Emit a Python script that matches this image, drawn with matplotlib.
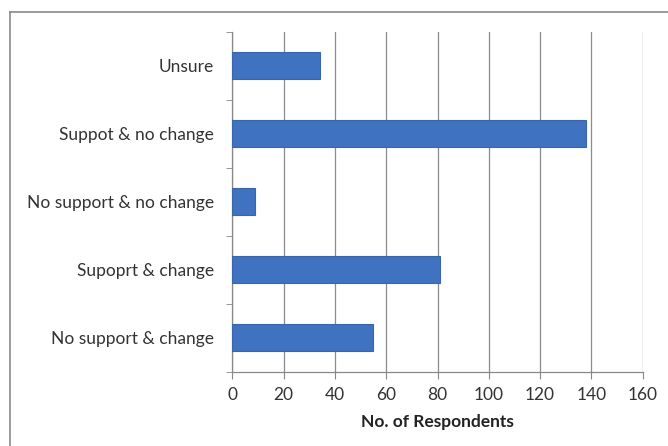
import matplotlib
matplotlib.use("Agg")
import matplotlib.pyplot as plt
from matplotlib.lines import Line2D

categories = ["No support & change", "Supoprt & change", "No support & no change",
              "Suppot & no change", "Unsure"]
respondents = [55, 81, 9, 138, 34]
x_ticks = [0, 20, 40, 60, 80, 100, 120, 140, 160]

plt.rcParams['font.family'] = ['Lato', 'DejaVu Sans']

fig = plt.figure(figsize=(6.68, 4.46), dpi=100)
ax = fig.add_axes([0.3478, 0.1666, 0.6143, 0.7623])

ypos = list(range(len(categories)))
ax.barh(ypos, respondents, height=0.39, color='#3f72c0', edgecolor='#3a66a8',
        linewidth=0.8, zorder=3)

ax.set_xlim(0, 160)
ax.set_ylim(-0.5, len(categories) - 0.5)
ax.set_xticks(x_ticks)
ax.set_xticklabels([str(t) for t in x_ticks], fontsize=12.5, color='#333333')
ax.set_yticks(ypos)
ax.set_yticklabels(categories, fontsize=12.5, color='#333333')
ax.tick_params(axis='y', length=0, pad=13)
ax.tick_params(axis='x', length=5, color='#888888', pad=6, direction='out')

# minor ticks on the category axis at band boundaries
ax.set_yticks([i + 0.5 for i in range(-1, len(categories))], minor=True)
ax.tick_params(axis='y', which='minor', length=4, color='#888888')

ax.grid(axis='x', color='#8c8c8c', linewidth=0.9, zorder=0)
for s in ['top', 'right']:
    ax.spines[s].set_visible(False)
for s in ['left', 'bottom']:
    ax.spines[s].set_color('#888888')
    ax.spines[s].set_linewidth(0.9)

ax.set_xlabel("No. of Respondents", fontsize=12.5, fontweight='bold', color='#222222',
              labelpad=8)

# outer chart border
fig.add_artist(Line2D([10 / 668, 10 / 668], [0, 1 - 12 / 446], transform=fig.transFigure,
                      color='#8a8a8a', linewidth=1.2))
fig.add_artist(Line2D([10 / 668, 1], [1 - 12 / 446, 1 - 12 / 446], transform=fig.transFigure,
                      color='#8a8a8a', linewidth=1.2))

fig.savefig("out.png", dpi=100)
